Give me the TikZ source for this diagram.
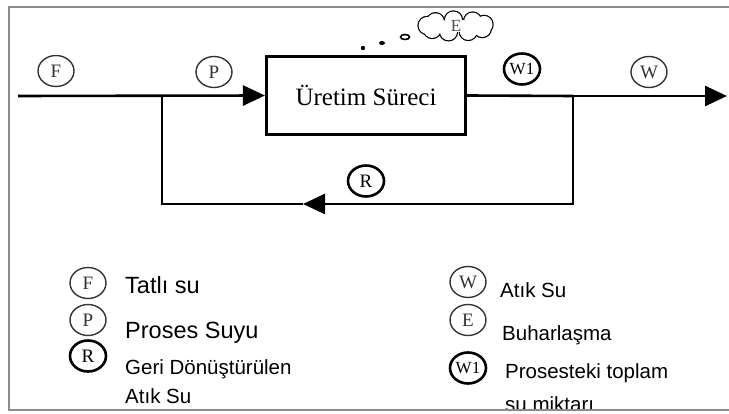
\documentclass[tikz,border=0pt]{standalone}
\usepackage{fontspec}
\newfontfamily\legendfont{Liberation Sans}
\newfontfamily\tagfont{Liberation Serif}
\usetikzlibrary{arrows.meta,shapes.geometric}

\begin{document}
\begin{tikzpicture}[x=1pt,y=-1pt,
    flow/.style={line width=2.6pt},
    head/.style={-{Triangle[length=22pt,width=20pt]}},
    tag/.style={ellipse, draw=black!80, text=black!80, line width=1.4pt,
      minimum width=36pt, minimum height=31pt, inner sep=0pt,
      font=\tagfont\fontsize{19}{19}\selectfont},
    boldtag/.style={tag, draw=black, text=black, line width=2.6pt},
    legend/.style={anchor=base west, inner sep=0pt,
      font=\legendfont\fontsize{20.5}{24}\selectfont},
    biglegend/.style={legend, font=\legendfont\fontsize{23.5}{28}\selectfont}]
  \useasboundingbox (0,0) rectangle (729,414);
  % frame (open to the right)
  \draw[black!45, line width=2.4pt] (745,7) -- (9,7) -- (9,410) -- (745,410);

  % process and flows
  \node[draw, line width=2.6pt, minimum width=199.5pt, minimum height=78.5pt,
    font=\tagfont\fontsize{25}{28}\selectfont] (proc) at (366,95.5) {Üretim Süreci};
  \coordinate (in) at (18,96);
  \coordinate (split) at (162,96);
  \coordinate (merge) at (573,96);
  \coordinate (out) at (727,96);
  \coordinate (rback) at (573,204);
  \coordinate (rtip) at (303,204);
  \coordinate (lback) at (162,204);
  \draw[flow, head] (in) -- (proc.west);
  \draw[flow] (proc.east) -- (merge);
  \draw[flow, head] (merge) -- (out);
  \draw[flow, head] (merge) -- (rback) -- (rtip);
  \draw[flow] (rtip) -- (lback) -- (split);

  % stream tags
  \node[tag] (F) at (56,71) {F};
  \node[tag] (P) at (214,72) {P};
  \node[boldtag, font=\tagfont\fontsize{17}{17}\selectfont] (W1) at (522,69) {W1};
  \node[tag] (W) at (649,72) {W};
  \node[boldtag] (R) at (366,181) {R};

  % evaporation cloud: stroked puffs, then filled over
  \begin{scope}[shift={(456,26)}]
    \foreach \a in {15,55,...,335}
      \draw[line width=2.4pt] (\a:29pt and 6pt) circle (8.5pt);
    \foreach \a in {15,55,...,335}
      \fill[white] (\a:29pt and 6pt) circle (8.5pt);
    \fill[white] (0,0) ellipse (29pt and 6pt);
  \end{scope}
  \node[text=black!70, inner sep=0pt, font=\tagfont\fontsize{17}{17}\selectfont] (E) at (456,26) {E};
  \fill (363,48) circle (2.2pt);
  \fill (382,43) ellipse (3pt and 2pt);
  \draw[line width=1.6pt] (405,37) ellipse (4.5pt and 2.5pt);

  % legend
  \node[tag] (kF) at (88,283) {F};
  \node[tag] (kP) at (88,320) {P};
  \node[boldtag] (kR) at (88,356) {R};
  \node[biglegend] (tF) at (125,294) {Tatlı su};
  \node[biglegend] (tP) at (125,338) {Proses Suyu};
  \node[legend] (tR) at (125,374) {Geri Dönüştürülen};
  \node[legend] (tR2) at (125,403) {Atık Su};

  \node[tag] (kW) at (468,282) {W};
  \node[tag] (kE) at (468,320) {E};
  \node[boldtag, font=\tagfont\fontsize{17}{17}\selectfont] (kW1) at (468,368) {W1};
  \node[legend] (tW) at (500,298) {Atık Su};
  \node[legend] (tE) at (502,341) {Buharlaşma};
  \node[legend] (tW1) at (505,378) {Prosesteki toplam};
  \node[legend] (tW12) at (505,411) {su miktarı};
  % bottom edge drawn again over the cut text
  \draw[black!45, line width=2.4pt] (9,410) -- (745,410);
\end{tikzpicture}
\end{document}
